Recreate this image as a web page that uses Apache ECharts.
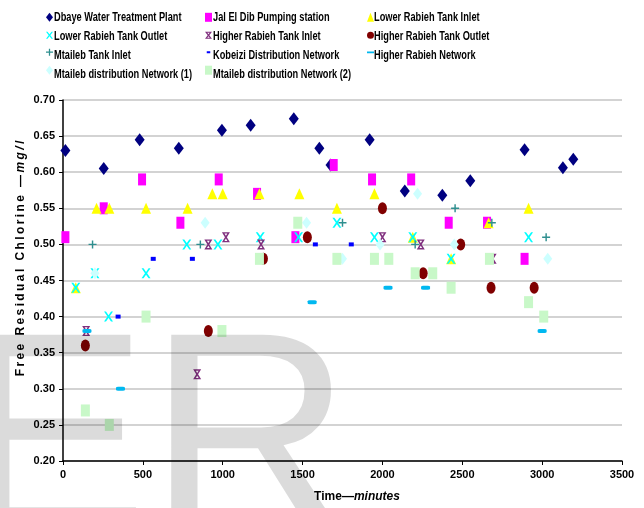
<!DOCTYPE html>
<html>
<head>
<meta charset="utf-8">
<title>Free Residual Chlorine vs Time</title>
<script src="https://cdn.jsdelivr.net/npm/echarts@6/dist/echarts.min.js"></script>
<style>
  html, body { margin: 0; padding: 0; background: #fff; }
  #chart { width: 644px; height: 508px; }
</style>
</head>
<body>
<div id="chart"></div>
<script>
// Sampling points: [time in minutes, free residual chlorine in mg/l]
const dbaye = [[15,0.63],[255,0.605],[480,0.645],[725,0.633],[995,0.658],[1175,0.665],[1445,0.674],[1605,0.633],[1675,0.61],[1920,0.645],[2140,0.574],[2375,0.568],[2550,0.588],[2890,0.631],[3130,0.606],[3195,0.618]];
const jalElDib = [[15,0.51],[255,0.55],[495,0.59],[735,0.53],[975,0.59],[1215,0.57],[1455,0.51],[1695,0.61],[1935,0.59],[2180,0.59],[2415,0.53],[2655,0.53],[2890,0.48]];
const lowerInlet = [[80,0.44],[210,0.55],[290,0.55],[520,0.55],[780,0.55],[935,0.57],[1000,0.57],[1230,0.57],[1480,0.57],[1715,0.55],[1950,0.57],[2190,0.51],[2430,0.48],[2665,0.53],[2915,0.55]];
const lowerOutlet = [[80,0.44],[200,0.46],[285,0.40],[520,0.46],[775,0.50],[970,0.50],[1235,0.51],[1475,0.51],[1715,0.53],[1950,0.51],[2190,0.51],[2430,0.48],[2915,0.51]];
const higherInlet = [[145,0.38],[840,0.32],[910,0.50],[1020,0.51],[1240,0.50],[2000,0.51],[2240,0.50],[2690,0.48]];
const higherOutlet = [[140,0.36],[910,0.38],[1255,0.48],[1530,0.51],[2000,0.55],[2255,0.46],[2490,0.50],[2680,0.44],[2950,0.44]];
const mtailebInlet = [[185,0.50],[860,0.50],[1750,0.53],[2205,0.50],[2455,0.55],[2685,0.53],[3025,0.51]];
const kobeizi = [[345,0.40],[565,0.48],[810,0.48],[1580,0.50],[1805,0.50]];
const higherNetwork = [[150,0.38],[360,0.30],[1560,0.42],[2035,0.44],[2270,0.44],[3000,0.38]];
const mtailebNet1 = [[200,0.46],[890,0.53],[1525,0.53],[1750,0.48],[1985,0.50],[2220,0.57],[2450,0.50],[3035,0.48]];
const mtailebNet2 = [[140,0.27],[290,0.25],[520,0.40],[995,0.38],[1230,0.48],[1470,0.53],[1715,0.48],[1950,0.48],[2040,0.48],[2205,0.46],[2315,0.46],[2430,0.44],[2670,0.48],[2915,0.42],[3010,0.40]];

const seriesNames = [
  'Dbaye Water Treatment Plant', 'Jal El Dib Pumping station', 'Lower Rabieh Tank Inlet',
  'Lower Rabieh Tank Outlet', 'Higher Rabieh Tank Inlet', 'Higher Rabieh Tank Outlet',
  'Mtaileb Tank Inlet', 'Kobeizi Distribution Network', 'Higher Rabieh Network',
  'Mtaileb distribution Network (1)', 'Mtaileb distribution Network (2)'
];
// legend layout: three columns of series indices
const legendColumns = [[0, 3, 6, 9], [1, 4, 7, 10], [2, 5, 8]];
const xTicks = { min: 0, max: 3500, step: 500 };
const yTicks = { min: 0.20, max: 0.70, step: 0.05 };
const yTitle = ['Free Residual Chlorine —', 'mg/l'];
const xTitle = ['Time—', 'minutes'];

// Marker shapes
const X_PATH = 'path://M0,0L2.2,0L5,3.6L7.8,0L10,0L6.2,5L10,10L7.8,10L5,6.4L2.2,10L0,10L3.8,5Z';
const BAR_X_PATH = 'path://M0,0L2.2,0L5,3.6L7.8,0L10,0L6.2,5L10,10L7.8,10L5,6.4L2.2,10L0,10L3.8,5Z' +
  'M1,0L9,0L9,1.3L1,1.3Z M1,8.7L9,8.7L9,10L1,10Z';
const PLUS_PATH = 'path://M4.1,0L5.9,0L5.9,4.1L10,4.1L10,5.9L5.9,5.9L5.9,10L4.1,10L4.1,5.9L0,5.9L0,4.1L4.1,4.1Z';
// legend icons padded with invisible corner specks so the mark stays small inside the icon box
const DASH_ICON = 'path://M0,0L0.05,0L0.05,0.05Z M0,4L10,4L10,6.5L0,6.5Z M10,10L9.95,10L9.95,9.95Z';
const DOT_ICON = 'path://M0,0L0.05,0L0.05,0.05Z M2.5,3.5L7.5,3.5L7.5,6.5L2.5,6.5Z M10,10L9.95,10L9.95,9.95Z';

const seriesDefs = [
  { data: dbaye, symbol: 'diamond', size: [10, 13], color: '#000080' },
  { data: jalElDib, symbol: 'rect', size: [8, 12], color: '#FF00FF' },
  { data: lowerInlet, symbol: 'triangle', size: [10, 11], color: '#FFFF00' },
  { data: lowerOutlet, symbol: X_PATH, size: [9, 10], color: '#00FFFF' },
  { data: higherInlet, symbol: BAR_X_PATH, size: [8, 10], color: '#80307F' },
  { data: higherOutlet, symbol: 'circle', size: [9, 12], color: '#800000' },
  { data: mtailebInlet, symbol: PLUS_PATH, size: [8, 8], color: '#2F8F8F' },
  { data: kobeizi, symbol: 'rect', size: [5, 4], color: '#0000FF' },
  { data: higherNetwork, symbol: 'roundRect', size: [9, 4], color: '#00B8F0' },
  { data: mtailebNet1, symbol: 'diamond', size: [9, 12], color: '#CCFFFF' },
  { data: mtailebNet2, symbol: 'rect', size: [9, 12], color: '#C8F8C8' }
];

const series = seriesDefs.map((d, i) => ({
  name: seriesNames[i],
  type: 'scatter',
  data: d.data,
  symbol: d.symbol,
  symbolSize: d.size,
  itemStyle: { color: d.color, opacity: 1 },
  emphasis: { disabled: true },
  z: 2
}));

// Legend: library icons in three columns; the labels are drawn condensed beside them
const colIconLeft = [46, 205, 367];
const colTextLeft = [54, 213, 374];
const rowCenter = [17.3, 36.5, 55.3, 74.2];

const legends = legendColumns.map((col, c) => ({
  orient: 'vertical',
  left: colIconLeft[c],
  top: rowCenter[0] - 4.5,
  padding: 0,
  itemGap: (rowCenter[3] - rowCenter[0]) / 3 - 9,
  itemWidth: 7,
  itemHeight: 9,
  selectedMode: false,
  formatter: () => '',
  textStyle: { fontSize: 9, lineHeight: 9 },
  data: col.map(i => {
    const n = seriesNames[i];
    if (i === 8) return { name: n, icon: DASH_ICON };
    if (i === 7) return { name: n, icon: DOT_ICON };
    return { name: n };
  })
}));

const legendLabels = [];
legendColumns.forEach((col, c) => {
  col.forEach((i, r) => {
    legendLabels.push({
      type: 'text',
      silent: true,
      x: colTextLeft[c],
      y: rowCenter[r],
      scaleX: 0.77,
      style: {
        text: seriesNames[i],
        font: "bold 12px 'Liberation Sans', Arial, sans-serif",
        verticalAlign: 'middle',
        fill: '#000'
      }
    });
  });
});

const spaced = s => s.split('').join('\u2009');
const fontFam = "'Liberation Sans', Arial, sans-serif";
const titleRich = {
  b: { fontFamily: fontFam, fontWeight: 'bold', fontSize: 12, color: '#000' },
  i: { fontFamily: fontFam, fontWeight: 'bold', fontStyle: 'italic', fontSize: 12, color: '#000' }
};
const axisFont = { fontFamily: fontFam, fontWeight: 'bold', fontSize: 11, color: '#000' };

const option = {
  animation: false,
  backgroundColor: '#fff',
  grid: { left: 63, top: 100, width: 559, height: 361, containLabel: false },
  legend: legends,
  xAxis: {
    type: 'value',
    min: xTicks.min, max: xTicks.max, interval: xTicks.step,
    name: '{b|' + xTitle[0] + '}{i|' + xTitle[1] + '}',
    nameLocation: 'middle',
    nameGap: 30,
    nameTextStyle: { padding: [0, 0, 0, 29], rich: titleRich },
    axisLine: { onZero: false, lineStyle: { color: '#000', width: 1.5 } },
    axisTick: { show: true, inside: false, length: 4, lineStyle: { color: '#000', width: 1 } },
    axisLabel: Object.assign({ margin: 8, formatter: v => String(v) }, axisFont),
    splitLine: { show: false }
  },
  yAxis: {
    type: 'value',
    min: yTicks.min, max: yTicks.max, interval: yTicks.step,
    name: '{b|' + spaced(yTitle[0]) + '\u2009}{i|' + spaced(yTitle[1]) + '}',
    nameLocation: 'middle',
    nameRotate: 90,
    nameGap: 36,
    nameMoveOverlap: false,
    nameTextStyle: { padding: [0, 0, 0, 44], rich: titleRich },
    axisLine: { show: true, onZero: false, lineStyle: { color: '#000', width: 1.5 } },
    axisTick: { show: true, inside: false, length: 4, lineStyle: { color: '#000', width: 1 } },
    axisLabel: Object.assign({ margin: 8, formatter: v => v.toFixed(2) }, axisFont),
    splitLine: { show: true, lineStyle: { color: '#C4C4C4', width: 1.5 } }
  },
  graphic: legendLabels.concat([
    {
      type: 'text',
      silent: true,
      z: 100,
      x: -40,
      y: 451,
      style: {
        text: 'ER',
        font: "282px 'Liberation Sans', Arial, sans-serif",
        verticalAlign: 'middle',
        fill: 'rgba(0,0,0,0.14)'
      }
    }
  ]),
  series: series
};

const chart = echarts.init(document.getElementById('chart'), null, { renderer: 'canvas' });
chart.setOption(option);
</script>
</body>
</html>
